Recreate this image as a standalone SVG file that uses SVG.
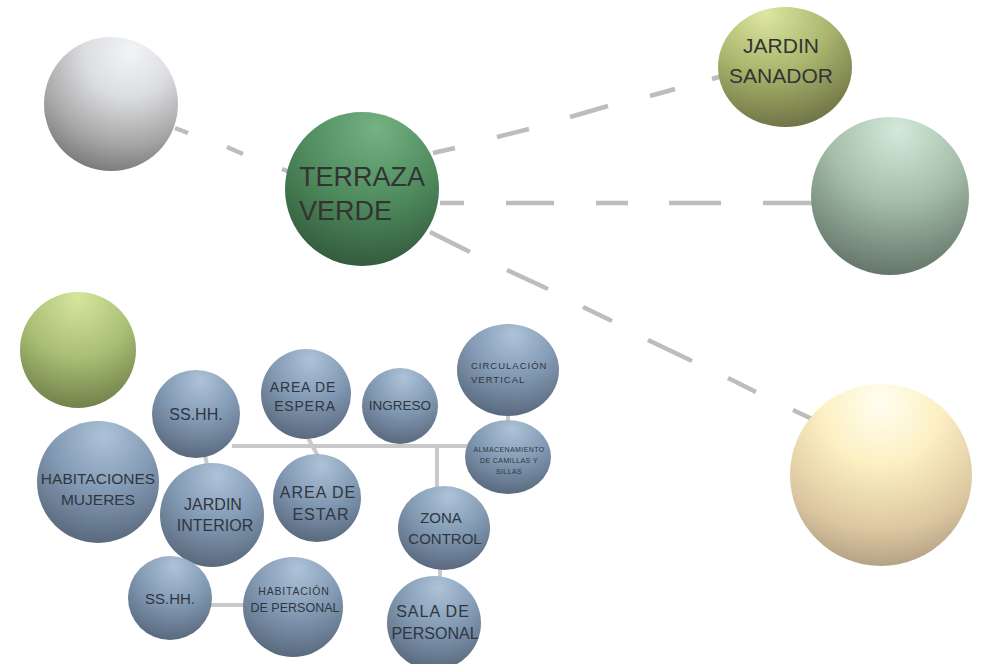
<svg xmlns="http://www.w3.org/2000/svg" width="982" height="664" viewBox="0 0 982 664">
  <defs>
    <radialGradient id="gBlue" cx="0.55" cy="0.2" r="0.95" fx="0.55" fy="0.12">
      <stop offset="0" stop-color="#aec3d9"/>
      <stop offset="0.45" stop-color="#8299b3"/>
      <stop offset="1" stop-color="#4b596b"/>
    </radialGradient>
    <radialGradient id="gGray" cx="0.6" cy="0.15" r="0.95" fx="0.65" fy="0.1">
      <stop offset="0" stop-color="#f2f5f8"/>
      <stop offset="0.35" stop-color="#dcdde0"/>
      <stop offset="0.7" stop-color="#a6a6a6"/>
      <stop offset="1" stop-color="#6a6a6a"/>
    </radialGradient>
    <radialGradient id="gTerraza" cx="0.55" cy="0.15" r="0.95" fx="0.6" fy="0.1">
      <stop offset="0" stop-color="#74b283"/>
      <stop offset="0.5" stop-color="#4e8a5c"/>
      <stop offset="1" stop-color="#2d5036"/>
    </radialGradient>
    <radialGradient id="gSanador" cx="0.4" cy="0.1" r="0.95" fx="0.35" fy="0.05">
      <stop offset="0" stop-color="#dde7a0"/>
      <stop offset="0.5" stop-color="#a9b46c"/>
      <stop offset="1" stop-color="#6a6f42"/>
    </radialGradient>
    <radialGradient id="gTeal" cx="0.55" cy="0.12" r="0.95" fx="0.55" fy="0.08">
      <stop offset="0" stop-color="#d3eadb"/>
      <stop offset="0.45" stop-color="#a6bfaa"/>
      <stop offset="1" stop-color="#5c6c61"/>
    </radialGradient>
    <radialGradient id="gCream" cx="0.5" cy="0.15" r="0.95" fx="0.5" fy="0.1">
      <stop offset="0" stop-color="#fffff0"/>
      <stop offset="0.35" stop-color="#fcefc2"/>
      <stop offset="0.7" stop-color="#dcc7a0"/>
      <stop offset="1" stop-color="#a09078"/>
    </radialGradient>
    <radialGradient id="gLime" cx="0.5" cy="0.12" r="0.95" fx="0.5" fy="0.05">
      <stop offset="0" stop-color="#d6e69c"/>
      <stop offset="0.5" stop-color="#a9bf74"/>
      <stop offset="1" stop-color="#687845"/>
    </radialGradient>
    <style>
      .dash { stroke: #bdbdbd; stroke-width: 4.5; fill: none; stroke-linecap: butt; }
      .link { stroke: #c9c9c9; stroke-width: 4; fill: none; }
      .lbl { font-family: "Liberation Sans", Arial, sans-serif; fill: #333; text-anchor: middle; }
      .lblb { font-family: "Liberation Sans", Arial, sans-serif; fill: #2f3640; text-anchor: middle; }
    </style>
  </defs>

  <rect width="982" height="664" fill="#ffffff"/>

  <!-- connectors -->
  <g id="connectors">
    <!-- dashed relations from TERRAZA VERDE -->
    <path class="dash" d="M175 128 L188 133 M227 147 L243 154 M282 169 L292 173"/>
    <path class="dash" d="M433 153 L455 148 M497 137 L529 129 M570 117 L608 106 M650 96 L675 89 M712 79 L722 76"/>
    <path class="dash" d="M440 203 L464 203 M506 203 L554 203 M596 203 L628 203 M669 203 L721 203 M763 203 L812 203"/>
    <path class="dash" d="M430 232 L470 252 M507 270 L548 289 M583 307 L612 321 M648 340 L692 361 M728 378 L756 392 M793 410 L812 419"/>
    <!-- solid links in the lower cluster -->
    <path class="link" d="M232 446 L470 446"/>
    <path class="link" d="M437 446 L437 490"/>
    <path class="link" d="M308 438 L318 456"/>
    <path class="link" d="M205 455 L207 465"/>
    <path class="link" d="M508 414 L508 422"/>
    <path class="link" d="M440 568 L440 582"/>
    <path class="link" d="M210 605 L245 605"/>
  </g>

  <!-- upper spheres -->
  <g id="esfera-gris"><circle cx="111" cy="104" r="67" fill="url(#gGray)"/></g>
  <g id="terraza-verde">
    <circle cx="362" cy="189" r="77" fill="url(#gTerraza)"/>
    <text class="lbl" x="362" y="186" font-size="27" style="text-anchor:start" transform="translate(-63 0)">TERRAZA</text>
    <text class="lbl" x="299" y="220" font-size="27" style="text-anchor:start">VERDE</text>
  </g>
  <g id="jardin-sanador">
    <ellipse cx="785" cy="67" rx="67" ry="60" fill="url(#gSanador)"/>
    <text class="lbl" x="781" y="53" font-size="21">JARDIN</text>
    <text class="lbl" x="781" y="83" font-size="21">SANADOR</text>
  </g>
  <g id="esfera-verdeazul"><circle cx="890" cy="196" r="79" fill="url(#gTeal)"/></g>
  <g id="esfera-crema"><circle cx="881" cy="475" r="91" fill="url(#gCream)"/></g>
  <g id="esfera-lima"><circle cx="78" cy="350" r="58" fill="url(#gLime)"/></g>

  <!-- lower cluster -->
  <g id="sshh-1">
    <circle cx="196" cy="414" r="44" fill="url(#gBlue)"/>
    <text class="lblb" x="196" y="420" font-size="16">SS.HH.</text>
  </g>
  <g id="area-espera">
    <circle cx="306" cy="394" r="45" fill="url(#gBlue)"/>
    <text class="lblb" x="303" y="392" font-size="14" letter-spacing="0.8">AREA DE</text>
    <text class="lblb" x="305" y="411" font-size="14" letter-spacing="0.8">ESPERA</text>
  </g>
  <g id="ingreso">
    <circle cx="400" cy="406" r="38" fill="url(#gBlue)"/>
    <text class="lblb" x="400" y="410" font-size="13.5">INGRESO</text>
  </g>
  <g id="circulacion-vertical">
    <ellipse cx="508" cy="370" rx="51" ry="46" fill="url(#gBlue)"/>
    <text class="lblb" x="471" y="369" font-size="9.5" letter-spacing="1" style="text-anchor:start">CIRCULACIÓN</text>
    <text class="lblb" x="471" y="383" font-size="9.5" letter-spacing="1" style="text-anchor:start">VERTICAL</text>
  </g>
  <g id="almacenamiento">
    <ellipse cx="508" cy="457" rx="43" ry="37" fill="url(#gBlue)"/>
    <text class="lblb" x="509" y="452" font-size="7" letter-spacing="0.4">ALMACENAMIENTO</text>
    <text class="lblb" x="509" y="463" font-size="7" letter-spacing="0.4">DE CAMILLAS Y</text>
    <text class="lblb" x="509" y="474" font-size="7" letter-spacing="0.4">SILLAS</text>
  </g>
  <g id="habitaciones-mujeres">
    <circle cx="98" cy="482" r="61" fill="url(#gBlue)"/>
    <text class="lblb" x="98" y="484" font-size="15.5">HABITACIONES</text>
    <text class="lblb" x="98" y="505" font-size="15.5">MUJERES</text>
  </g>
  <g id="jardin-interior">
    <circle cx="212" cy="515" r="52" fill="url(#gBlue)"/>
    <text class="lblb" x="213" y="510" font-size="16">JARDIN</text>
    <text class="lblb" x="215" y="531" font-size="16">INTERIOR</text>
  </g>
  <g id="area-estar">
    <circle cx="317" cy="498" r="44" fill="url(#gBlue)"/>
    <text class="lblb" x="318" y="498" font-size="16" letter-spacing="1">AREA DE</text>
    <text class="lblb" x="321" y="520" font-size="16" letter-spacing="1">ESTAR</text>
  </g>
  <g id="zona-control">
    <ellipse cx="444" cy="528" rx="46" ry="42" fill="url(#gBlue)"/>
    <text class="lblb" x="441" y="523" font-size="15">ZONA</text>
    <text class="lblb" x="445" y="544" font-size="15">CONTROL</text>
  </g>
  <g id="sala-personal">
    <circle cx="434" cy="623" r="47" fill="url(#gBlue)"/>
    <text class="lblb" x="433" y="617" font-size="16" letter-spacing="1">SALA DE</text>
    <text class="lblb" x="435" y="639" font-size="16">PERSONAL</text>
  </g>
  <g id="sshh-2">
    <circle cx="170" cy="598" r="42" fill="url(#gBlue)"/>
    <text class="lblb" x="170" y="604" font-size="15">SS.HH.</text>
  </g>
  <g id="habitacion-personal">
    <circle cx="293" cy="607" r="50" fill="url(#gBlue)"/>
    <text class="lblb" x="294" y="595" font-size="10.5" letter-spacing="0.8">HABITACIÓN</text>
    <text class="lblb" x="295" y="612" font-size="12.5">DE PERSONAL</text>
  </g>
</svg>
